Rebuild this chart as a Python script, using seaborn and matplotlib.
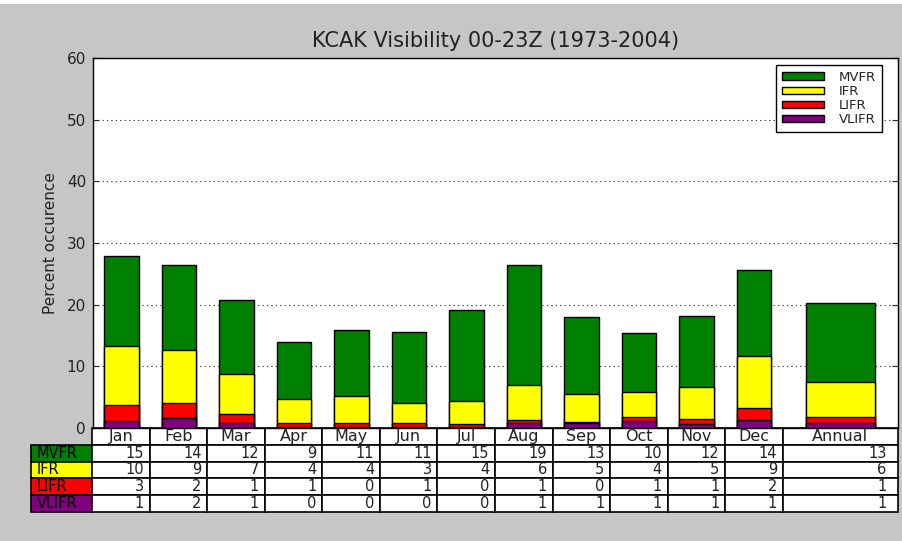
import numpy as np
import pandas as pd
import matplotlib
matplotlib.use("Agg")
import matplotlib.pyplot as plt
import seaborn as sns
from matplotlib.patches import Patch, Rectangle

# ---------------- data ----------------
labels = ["Jan", "Feb", "Mar", "Apr", "May", "Jun", "Jul", "Aug", "Sep",
          "Oct", "Nov", "Dec", "Annual"]
categories = ["MVFR", "IFR", "LIFR", "VLIFR"]
cat_colors = ["#008000", "#ffff00", "#ff0000", "#800080"]

# bar segment heights (percent)
mvfr = [14.6, 13.7, 12.0, 9.2, 10.7, 11.4, 14.85, 19.35, 12.45, 9.6, 11.5, 14.0, 12.8]
ifr = [9.6, 8.6, 6.4, 3.9, 4.4, 3.3, 3.75, 5.8, 4.55, 4.0, 5.1, 8.5, 5.6]
lifr = [2.6, 2.4, 1.5, 0.6, 0.55, 0.6, 0.4, 0.45, 0.2, 0.6, 0.8, 1.95, 1.0]
vlifr = [1.1, 1.7, 0.8, 0.2, 0.2, 0.2, 0.2, 0.8, 0.8, 1.2, 0.7, 1.25, 0.8]

# values printed in the table
tab_mvfr = [15, 14, 12, 9, 11, 11, 15, 19, 13, 10, 12, 14, 13]
tab_ifr = [10, 9, 7, 4, 4, 3, 4, 6, 5, 4, 5, 9, 6]
tab_lifr = [3, 2, 1, 1, 0, 1, 0, 1, 0, 1, 1, 2, 1]
tab_vlifr = [1, 2, 1, 0, 0, 0, 0, 1, 1, 1, 1, 1, 1]

title = "KCAK Visibility 00-23Z (1973-2004)"
ylabel = "Percent occurence"

# ---------------- style ----------------
sns.set_style("white")
plt.rcParams["font.family"] = ["DejaVu Sans"]
txt_col = "#222222"

bg = "#c6c6c6"
fig = plt.figure(figsize=(9.03, 5.41), dpi=100, facecolor=bg)
ax = fig.add_axes([93 / 903, 1 - 428 / 541, 805 / 903, 370 / 541])
ax.set_facecolor("white")

# x positions: months 0..11, annual centred in a double-width slot
pos = [float(i) for i in range(12)] + [12.5]

layers = np.array([vlifr, lifr, ifr, mvfr])
cum = np.cumsum(layers, axis=0)  # VLIFR, VLIFR+LIFR, ..., total
layer_colors = cat_colors[::-1]  # purple, red, yellow, green

df = pd.DataFrame({"pos": pos, "label": labels})
for k in range(3, -1, -1):
    df["h"] = cum[k]
    col = layer_colors[k]
    sns.barplot(data=df.iloc[:12], x="pos", y="h", native_scale=True,
                width=0.6, color=col, saturation=1, edgecolor="black",
                linewidth=1.0, errorbar=None, ax=ax, zorder=3)
    sns.barplot(data=df.iloc[12:], x="pos", y="h", native_scale=True,
                width=1.2, color=col, saturation=1, edgecolor="black",
                linewidth=1.0, errorbar=None, ax=ax, zorder=3)

ax.set_xlim(-0.5, 13.5)
ax.set_ylim(0, 60)
ax.set_yticks(range(0, 61, 10))
ax.set_xticks([])
ax.set_xlabel("")
ax.set_ylabel(ylabel, fontsize=11, labelpad=6, color=txt_col)
ax.tick_params(axis="y", direction="in", length=4, width=0.8, pad=5,
               labelsize=11, left=True, right=True, labelcolor=txt_col)
ax.yaxis.grid(True, linestyle=(0, (1.2, 2.8)), color="#444444", linewidth=0.8)
ax.set_axisbelow(True)
for sp in ax.spines.values():
    sp.set_color("black")
    sp.set_linewidth(1.0)
ax.set_title(title, fontsize=15, pad=8, color=txt_col)

# legend
handles = [Patch(facecolor=c, edgecolor="black", linewidth=1.0) for c in cat_colors]
leg = ax.legend(handles, categories, loc="upper right",
                bbox_to_anchor=((882 - 93) / 805, 1 - 7 / 370),
                borderaxespad=0, fontsize=9.5, handlelength=3.2,
                handleheight=0.5, labelspacing=0.08, handletextpad=1.1,
                borderpad=0.45, fancybox=False, framealpha=1, edgecolor="black")
leg.get_frame().set_linewidth(1.0)
for t in leg.get_texts():
    t.set_color(txt_col)

# table
tab_rows = [tab_mvfr, tab_ifr, tab_lifr, tab_vlifr]
cell_text = [[cat] + [str(v) for v in row] for cat, row in zip(categories, tab_rows)]
col_labels = [""] + labels
widths = np.array([61] + [57.5] * 12 + [115], dtype=float)
widths = widths / widths.sum()
tbl = ax.table(cellText=cell_text, colLabels=col_labels, colWidths=list(widths),
               cellLoc="right", colLoc="center",
               bbox=[(31 - 93) / 805, -(512 - 428) / 370, 867 / 805, 84 / 370])
tbl.auto_set_font_size(False)
tbl.set_fontsize(10.5)
for (r, c), cell in tbl.get_celld().items():
    cell.set_linewidth(1.2)
    cell.set_edgecolor("black")
    t = cell.get_text()
    t.set_color(txt_col)
    if r == 0 and c == 0:
        cell.set_visible(False)
    elif r == 0:
        t.set_fontsize(11.5)
    elif c == 0:
        cell.set_facecolor(cat_colors[r - 1])
        t.set_ha("left")
        t.set_fontsize(10.5)
        t.set_color("black")

# thin white strip at the very top of the figure
fig.patches.append(Rectangle((0, 1 - 4 / 541), 1, 4 / 541, transform=fig.transFigure,
                             facecolor="white", edgecolor="none"))

fig.savefig("out.png", dpi=100, facecolor=bg)
